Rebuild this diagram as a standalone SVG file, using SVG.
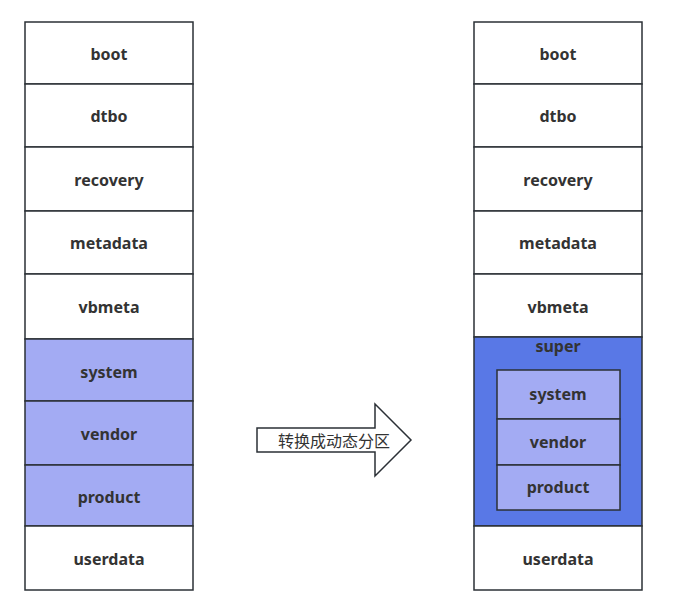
<svg xmlns="http://www.w3.org/2000/svg" width="685" height="614" viewBox="0 0 685 614">
<style>
.b{stroke:#2b3036;stroke-width:1.5}
.w{fill:#ffffff}
.l{fill:#a3abf3}
.s{fill:#5978e6}
.t{font-family:"Noto Sans","Open Sans",sans-serif;font-weight:bold;font-size:16px;fill:#333333;text-anchor:middle;dominant-baseline:central}
.c{font-family:"Noto Sans CJK SC",sans-serif;font-size:16px;fill:#333333;text-anchor:middle;dominant-baseline:central}
</style>
<rect width="685" height="614" fill="#ffffff"/>
<g id="left">
<g id="l-boot"><rect class="b w" x="25" y="22" width="168" height="62"/><text class="t" x="109" y="54">boot</text></g>
<g id="l-dtbo"><rect class="b w" x="25" y="84" width="168" height="63"/><text class="t" x="109" y="116">dtbo</text></g>
<g id="l-recovery"><rect class="b w" x="25" y="147" width="168" height="64"/><text class="t" x="109" y="180">recovery</text></g>
<g id="l-metadata"><rect class="b w" x="25" y="211" width="168" height="63"/><text class="t" x="109" y="243">metadata</text></g>
<g id="l-vbmeta"><rect class="b w" x="25" y="274" width="168" height="65"/><text class="t" x="109" y="307">vbmeta</text></g>
<g id="l-system"><rect class="b l" x="25" y="339" width="168" height="62"/><text class="t" x="109" y="372">system</text></g>
<g id="l-vendor"><rect class="b l" x="25" y="401" width="168" height="64"/><text class="t" x="109" y="434">vendor</text></g>
<g id="l-product"><rect class="b l" x="25" y="465" width="168" height="61"/><text class="t" x="109" y="497">product</text></g>
<g id="l-userdata"><rect class="b w" x="25" y="526" width="168" height="64"/><text class="t" x="109" y="559">userdata</text></g>
</g>
<g id="connectors">
<g id="arrow"><polygon class="b w" points="257,428 375,428 375,404 411,440 375,476 375,452 257,452"/><text class="c" x="334" y="440">转换成动态分区</text></g>
</g>
<g id="right">
<g id="r-boot"><rect class="b w" x="474" y="22" width="168" height="62"/><text class="t" x="558" y="54">boot</text></g>
<g id="r-dtbo"><rect class="b w" x="474" y="84" width="168" height="63"/><text class="t" x="558" y="116">dtbo</text></g>
<g id="r-recovery"><rect class="b w" x="474" y="147" width="168" height="64"/><text class="t" x="558" y="180">recovery</text></g>
<g id="r-metadata"><rect class="b w" x="474" y="211" width="168" height="63"/><text class="t" x="558" y="243">metadata</text></g>
<g id="r-vbmeta"><rect class="b w" x="474" y="274" width="168" height="63"/><text class="t" x="558" y="307">vbmeta</text></g>
<g id="r-super"><rect class="b s" x="474" y="337" width="168" height="189"/><text class="t" x="558" y="346">super</text></g>
<g id="r-system"><rect class="b l" x="497" y="370" width="123" height="49"/><text class="t" x="558" y="394">system</text></g>
<g id="r-vendor"><rect class="b l" x="497" y="419" width="123" height="46"/><text class="t" x="558" y="442">vendor</text></g>
<g id="r-product"><rect class="b l" x="497" y="465" width="123" height="45"/><text class="t" x="558" y="487">product</text></g>
<g id="r-userdata"><rect class="b w" x="474" y="526" width="168" height="64"/><text class="t" x="558" y="559">userdata</text></g>
</g>
</svg>
